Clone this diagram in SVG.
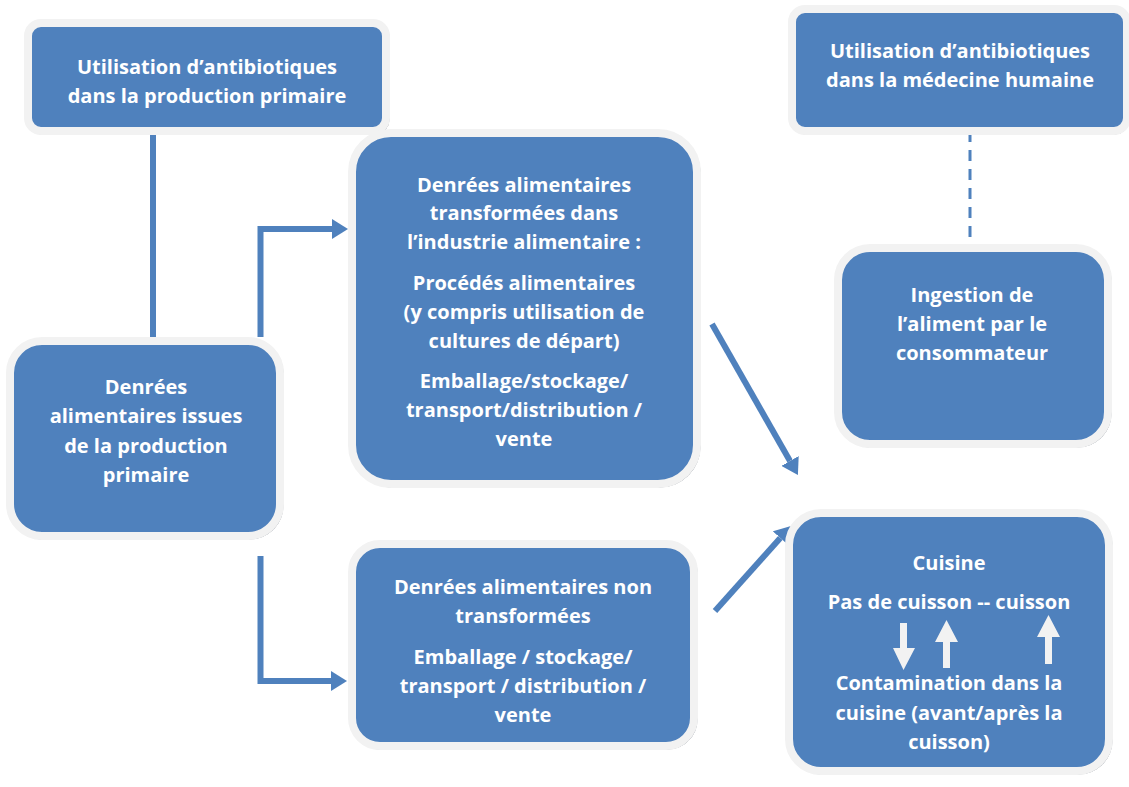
<svg xmlns="http://www.w3.org/2000/svg" width="1129" height="787" viewBox="0 0 1129 787">
<defs>
<style>
.shadow{fill:#B4B8BE;stroke:#9AA0A8;stroke-width:1}
.box{fill:#4F81BD;stroke:#F2F2F2;stroke-width:8}
.t{font-family:"Open Sans","Liberation Sans",Arial,sans-serif;font-weight:bold;font-size:20px;fill:#FFFFFF;text-anchor:middle}
.ln{stroke:#4F81BD;stroke-width:6;fill:none}
</style>
<marker id="ah" viewBox="0 0 16 20" refX="0" refY="10" markerWidth="2.667" markerHeight="3.333" orient="auto" markerUnits="strokeWidth">
<path d="M0,0 L16,10 L0,20 Z" fill="#4F81BD"/>
</marker>
</defs>
<rect width="1129" height="787" fill="#FFFFFF"/>

<g id="connectors">
<line class="ln" x1="153" y1="127" x2="153" y2="341"/>
<line x1="970" y1="131" x2="970" y2="244" stroke="#4F81BD" stroke-width="3" stroke-dasharray="11,8"/>
<path class="ln" d="M260.5,337 L260.5,229 L332,229" marker-end="url(#ah)"/>
<path class="ln" d="M260.5,556 L260.5,681 L331,681" marker-end="url(#ah)"/>
<line class="ln" x1="712" y1="324" x2="790" y2="461" marker-end="url(#ah)"/>
<line class="ln" x1="715" y1="611" x2="780.3" y2="537.9" marker-end="url(#ah)"/>
</g>

<g id="n1">
<rect class="shadow" x="27" y="22" width="362" height="112" rx="14"/>
<rect class="box" x="28" y="23" width="358" height="108" rx="13"/>
<text class="t" x="207" y="74">Utilisation d’antibiotiques</text>
<text class="t" x="207" y="103">dans la production primaire</text>
</g>

<g id="n2">
<rect class="shadow" x="791" y="8" width="338" height="126" rx="14"/>
<rect class="box" x="792" y="9" width="335" height="122" rx="13"/>
<text class="t" x="960" y="58">Utilisation d’antibiotiques</text>
<text class="t" x="960" y="87">dans la médecine humaine</text>
</g>

<g id="n3">
<rect class="shadow" x="351" y="132" width="349" height="355" rx="40"/>
<rect class="box" x="352" y="133" width="345" height="351" rx="39"/>
<text class="t" x="524" y="192">Denrées alimentaires</text>
<text class="t" x="524" y="220">transformées dans</text>
<text class="t" x="524" y="249">l’industrie alimentaire :</text>
<text class="t" x="524" y="290">Procédés alimentaires</text>
<text class="t" x="524" y="319">(y compris utilisation de</text>
<text class="t" x="524" y="348">cultures de départ)</text>
<text class="t" x="524" y="388">Emballage/stockage/</text>
<text class="t" x="524" y="417">transport/distribution /</text>
<text class="t" x="524" y="446">vente</text>
</g>

<g id="n4">
<rect class="shadow" x="837" y="247" width="274" height="200" rx="33"/>
<rect class="box" x="838" y="248" width="270" height="196" rx="32"/>
<text class="t" x="972" y="302">Ingestion de</text>
<text class="t" x="972" y="331">l’aliment par le</text>
<text class="t" x="972" y="360">consommateur</text>
</g>

<g id="n5">
<rect class="shadow" x="9" y="340" width="274" height="199" rx="33"/>
<rect class="box" x="10" y="341" width="270" height="195" rx="32"/>
<text class="t" x="146" y="394">Denrées</text>
<text class="t" x="146" y="423">alimentaires issues</text>
<text class="t" x="146" y="453">de la production</text>
<text class="t" x="146" y="482">primaire</text>
</g>

<g id="n6">
<rect class="shadow" x="351" y="543" width="346" height="206" rx="29"/>
<rect class="box" x="352" y="544" width="342" height="202" rx="28"/>
<text class="t" x="523" y="594">Denrées alimentaires non</text>
<text class="t" x="523" y="623">transformées</text>
<text class="t" x="523" y="664">Emballage / stockage/</text>
<text class="t" x="523" y="693">transport / distribution /</text>
<text class="t" x="523" y="722">vente</text>
</g>

<g id="n7">
<rect class="shadow" x="788" y="512" width="324" height="262" rx="33"/>
<rect class="box" x="789" y="513" width="320" height="258" rx="32"/>
<text class="t" x="949" y="570">Cuisine</text>
<text class="t" x="949" y="609">Pas de cuisson -- cuisson</text>
<path d="M900,623 L907,623 L907,648 L915,648 L903.5,670 L893,648 L900,648 Z" fill="#F2F2F2"/>
<path d="M943,668 L950,668 L950,642 L958,642 L946.5,620 L935,642 L943,642 Z" fill="#F2F2F2"/>
<path d="M1045,664 L1052,664 L1052,637 L1060,637 L1048.5,615 L1037,637 L1045,637 Z" fill="#F2F2F2"/>
<text class="t" x="949" y="690">Contamination dans la</text>
<text class="t" x="949" y="720">cuisine (avant/après la</text>
<text class="t" x="949" y="749">cuisson)</text>
</g>
</svg>
